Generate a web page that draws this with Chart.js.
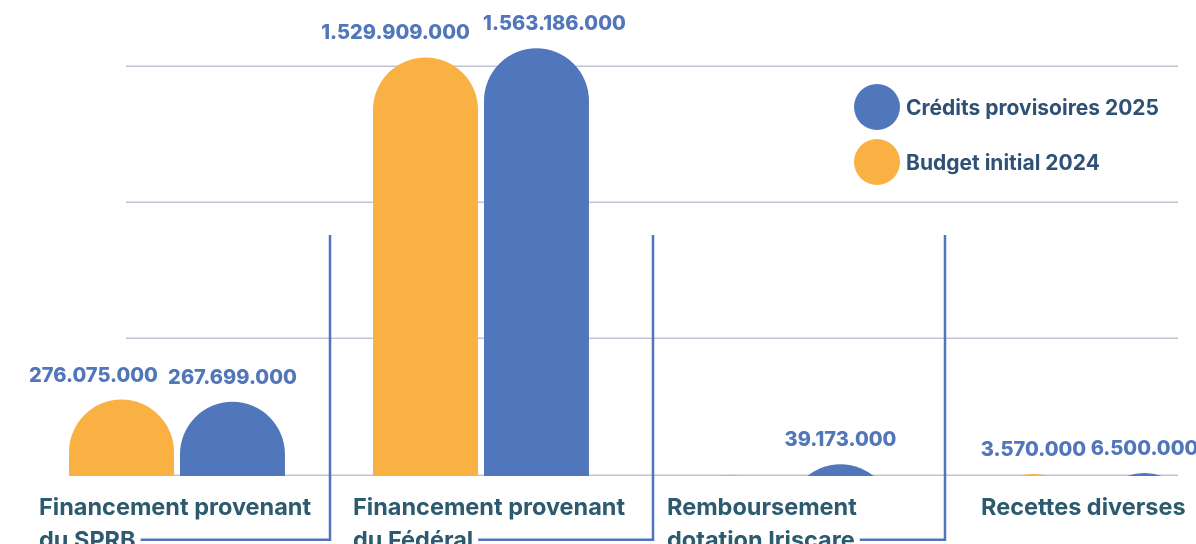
<!DOCTYPE html>
<html>
<head>
<meta charset="utf-8">
<script src="https://cdn.jsdelivr.net/npm/chart.js@4.4.1/dist/chart.umd.min.js"></script>
<style>
  html, body { margin: 0; padding: 0; background: #ffffff; }
  #wrap { position: relative; width: 1196px; height: 544px; overflow: hidden; background: #ffffff; }
  #c { position: absolute; left: 0; top: 0; }
  #legend { position: absolute; left: 854px; top: 84px; font-family: Inter, "Noto Sans", sans-serif; font-weight: 700; font-size: 21px; color: #2F5176; }
  #legend .item { display: flex; align-items: center; height: 46px; margin-bottom: 9px; }
  #legend .dot { width: 46px; height: 46px; border-radius: 50%; margin-right: 6px; flex: none; }
</style>
</head>
<body>
<div id="wrap">
  <canvas id="c" width="1266" height="600"></canvas>
  <div id="legend"></div>
</div>
<script>
// ---- data ----
const categories = [
  ['Financement provenant', 'du SPRB'],
  ['Financement provenant', 'du Fédéral'],
  ['Remboursement', 'dotation Iriscare'],
  ['Recettes diverses']
];
const seriesNames = ['Budget initial 2024', 'Crédits provisoires 2025'];
const budgetInitial2024 = [276075000, 1529909000, 0, 3570000];
const creditsProvisoires2025 = [267699000, 1563186000, 39173000, 6500000];
const gridValues = [0, 500000000, 1000000000, 1500000000];

// ---- style ----
const ORANGE = '#FAB144';
const BLUE = '#5077BB';
const LABEL_BLUE = '#5176BA';
const CAT_COLOR = '#2C5A6F';
const GRID_COLOR = '#C3C3D6';
const BRACKET_COLOR = '#5274BA';
const FONT_FAMILY = 'Inter, "Noto Sans", sans-serif';
const CAT_FONT = '700 23.5px ' + FONT_FAMILY;
const HIDDEN_BASE = -400000000; // bars rise from below the visible baseline, clipped at zero

function labelOffsetFor(i) { return -138 + 10 * i; }
function fmt(v) { return String(v).replace(/\B(?=(\d{3})+(?!\d))/g, '.'); }

const gridPlugin = {
  id: 'gridLines',
  beforeDatasetsDraw(chart) {
    const y = chart.scales.y;
    const ctx = chart.ctx;
    ctx.save();
    ctx.strokeStyle = GRID_COLOR;
    ctx.lineWidth = 1.5;
    gridValues.forEach(v => {
      const py = Math.round(y.getPixelForValue(v)) + 0.25;
      ctx.beginPath();
      ctx.moveTo(126, py);
      ctx.lineTo(1178, py);
      ctx.stroke();
    });
    ctx.restore();
  }
};

const baselineClipPlugin = {
  id: 'baselineClip',
  beforeDatasetsDraw(chart) {
    const ctx = chart.ctx;
    const y0 = Math.round(chart.scales.y.getPixelForValue(0)) + 1;
    ctx.save();
    ctx.beginPath();
    ctx.rect(0, 0, chart.width, y0);
    ctx.clip();
  },
  afterDatasetsDraw(chart) {
    chart.ctx.restore();
  }
};

const valueLabelPlugin = {
  id: 'valueLabels',
  afterDatasetsDraw(chart, args, opts) {
    const ctx = chart.ctx;
    ctx.save();
    ctx.font = '800 20px ' + FONT_FAMILY;
    ctx.fillStyle = LABEL_BLUE;
    ctx.textAlign = 'center';
    ctx.textBaseline = 'alphabetic';
    chart.data.datasets.forEach((ds, di) => {
      const meta = chart.getDatasetMeta(di);
      meta.data.forEach((el, i) => {
        const v = ds.data[i];
        if (!v) return;
        const shift = (opts.shifts[di] || [])[i] || 0;
        ctx.fillText(fmt(v), el.x + shift, el.y - 18);
      });
    });
    ctx.restore();
  }
};

const categoryLabelPlugin = {
  id: 'categoryLabels',
  afterDraw(chart, args, opts) {
    const x = chart.scales.x;
    const y0 = chart.scales.y.getPixelForValue(0);
    const ctx = chart.ctx;
    ctx.save();
    ctx.font = CAT_FONT;
    ctx.fillStyle = CAT_COLOR;
    ctx.textAlign = 'left';
    ctx.textBaseline = 'alphabetic';
    ctx.strokeStyle = BRACKET_COLOR;
    ctx.lineWidth = 2.5;
    chart.data.labels.forEach((lines, i) => {
      const left = x.getPixelForValue(i) + labelOffsetFor(i);
      lines.forEach((line, k) => ctx.fillText(line, left, y0 + 40 + 33 * k));
      if (i < chart.data.labels.length - 1) {
        const bx = (x.getPixelForValue(i) + x.getPixelForValue(i + 1)) / 2 + (opts.bracketShift[i] || 0);
        const last = lines[lines.length - 1];
        const endX = left + ctx.measureText(last).width + 5;
        const by = y0 + 65;
        ctx.beginPath();
        ctx.moveTo(bx, 235);
        ctx.lineTo(bx, by);
        ctx.lineTo(endX, by);
        ctx.stroke();
      }
    });
    ctx.restore();
  }
};

const chart = new Chart(document.getElementById('c'), {
  type: 'bar',
  data: {
    labels: categories,
    datasets: [
      {
        label: seriesNames[0],
        data: budgetInitial2024,
        base: HIDDEN_BASE,
        backgroundColor: ORANGE,
        borderRadius: { topLeft: 60, topRight: 60 },
        borderSkipped: 'start'
      },
      {
        label: seriesNames[1],
        data: creditsProvisoires2025,
        base: HIDDEN_BASE,
        backgroundColor: BLUE,
        borderRadius: { topLeft: 60, topRight: 60 },
        borderSkipped: 'start'
      }
    ]
  },
  options: {
    responsive: false,
    animation: false,
    devicePixelRatio: 1,
    layout: { padding: { left: 25, right: 25, top: 11, bottom: 16 } },
    datasets: { bar: { categoryPercentage: 0.73, barPercentage: 0.946 } },
    plugins: {
      legend: { display: false },
      tooltip: { enabled: false },
      valueLabels: { shifts: [[-28, -30, 0, 0], [0, 18, 0, 0]] },
      categoryLabels: { bracketShift: [1, 20, 8] }
    },
    scales: {
      x: {
        type: 'category',
        display: false,
        offset: true,
        grid: { display: false }
      },
      y: {
        display: false,
        min: HIDDEN_BASE,
        max: 1700000000,
        ticks: { stepSize: 500000000 }
      }
    }
  },
  plugins: [gridPlugin, baselineClipPlugin, valueLabelPlugin, categoryLabelPlugin]
});

// legend (HTML, built from the chart's datasets; blue series first)
const legendEl = document.getElementById('legend');
[1, 0].forEach(di => {
  const ds = chart.data.datasets[di];
  const item = document.createElement('div');
  item.className = 'item';
  const dot = document.createElement('span');
  dot.className = 'dot';
  dot.style.background = ds.backgroundColor;
  const txt = document.createElement('span');
  txt.textContent = ds.label;
  item.appendChild(dot);
  item.appendChild(txt);
  legendEl.appendChild(item);
});
</script>
</body>
</html>
